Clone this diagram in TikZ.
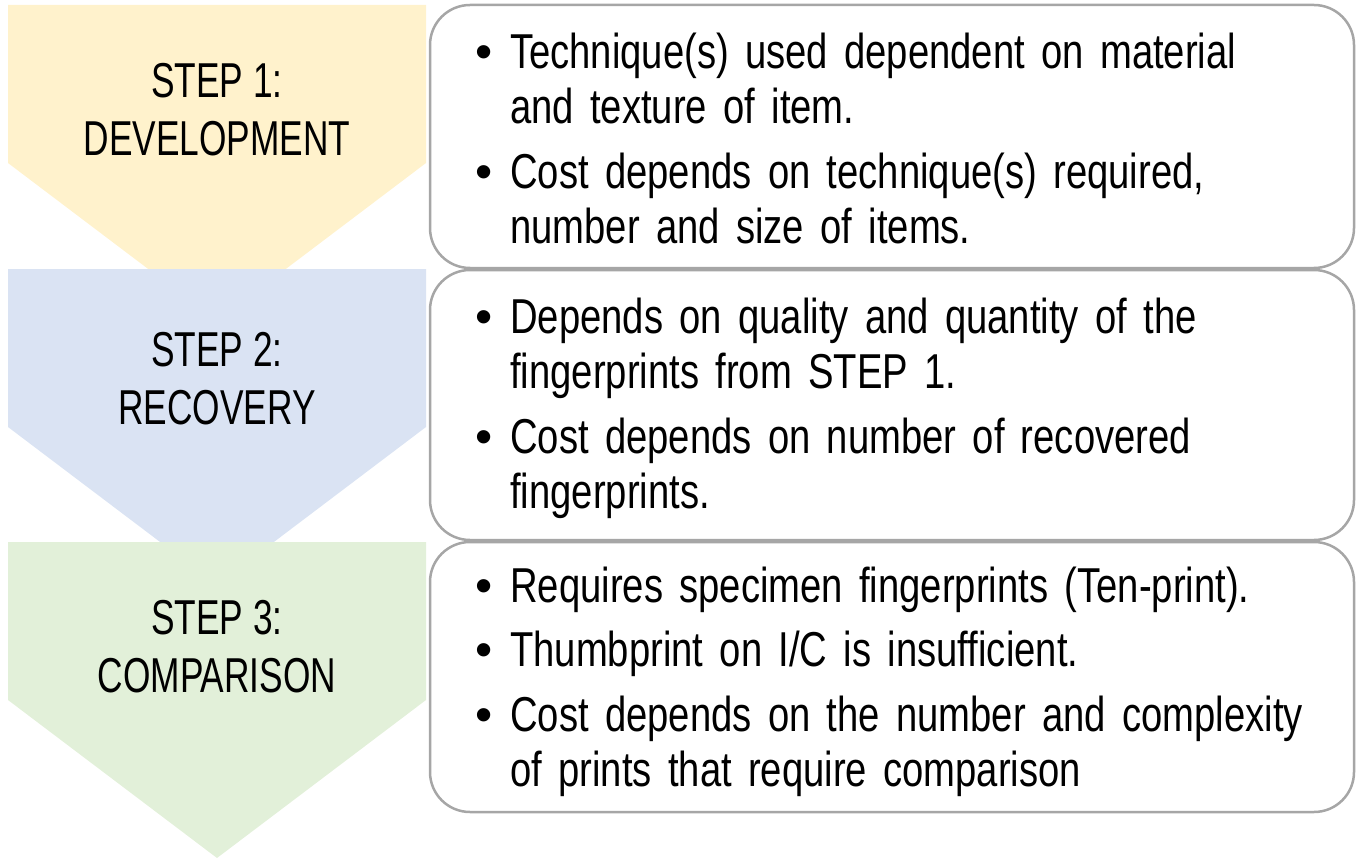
\documentclass[tikz,border=0pt]{standalone}
\usepackage{fontspec}
\setmainfont[FakeStretch=0.72]{Liberation Sans}
\newfontfamily\bodyfont[FakeStretch=0.78]{Liberation Sans}
\newfontfamily\bulfont{Liberation Sans}
\usetikzlibrary{positioning}
\definecolor{stepyellow}{HTML}{FFF2CC}
\definecolor{stepblue}{HTML}{DAE3F3}
\definecolor{stepgreen}{HTML}{E2F0D9}
\definecolor{boxgray}{HTML}{A6A6A6}
\newcommand{\bul}[1]{\noindent\makebox[35pt][l]{\bulfont\textbullet}%
  \begin{tabular}[t]{@{}l@{}}#1\end{tabular}\par}

\begin{document}
\begin{tikzpicture}
          [x=1pt,y=-1pt,
            chevlabel/.style={anchor=north,inner sep=0pt,align=center,
              font=\fontsize{49}{58}\selectfont},
            infobox/.style={draw=boxgray,line width=2.5pt,fill=white,
              rounded corners=40pt,minimum width=924pt},
            infotext/.style={anchor=north west,inner sep=0pt,text width=870pt,align=left,
              font=\bodyfont\fontsize{49}{55.5}\selectfont\setlength{\parskip}{9pt}\setlength{\lineskip}{0pt}}]
          \useasboundingbox (0,0) rectangle (1360,861);
          % chevrons
          \foreach \t/\c in {5/stepyellow,269/stepblue,542/stepgreen}
          \fill[\c] (8,\t) -- (426,\t) -- (426,\t+158) -- (217,\t+316) -- (8,\t+158) -- cycle;
          \node[chevlabel] (s1) at (217,63) {STEP 1:\\DEVELOPMENT};
          \node[chevlabel] (s2) at (217,332) {STEP 2:\\RECOVERY};
          \node[chevlabel] (s3) at (217,600) {STEP 3:\\COMPARISON};
          % boxes
          \node[infobox,minimum height=263pt] (b1) at (892,136.5) {};
          \node[infobox,minimum height=270pt] (b2) at (892,405) {};
          \node[infobox,minimum height=270pt] (b3) at (892,677) {};
          \node[infotext] (t1) at (475,29) {\bul{Technique(s) used dependent on material\\and texture of item.}%
            \bul{Cost depends on technique(s) required,\\number and size of items.}};
          \node[infotext] (t2) at (475,294) {\bul{Depends on quality and quantity of the\\fingerprints from STEP 1.}%
            \bul{Cost depends on number of recovered\\fingerprints.}};
          \node[infotext] (t3) at (475,563) {\bul{Requires specimen fingerprints (Ten-print).}%
            \bul{Thumbprint on I/C is insufficient.}%
            \bul{Cost depends on the number and complexity\\of prints that require comparison}};
        \end{tikzpicture}
\end{document}
